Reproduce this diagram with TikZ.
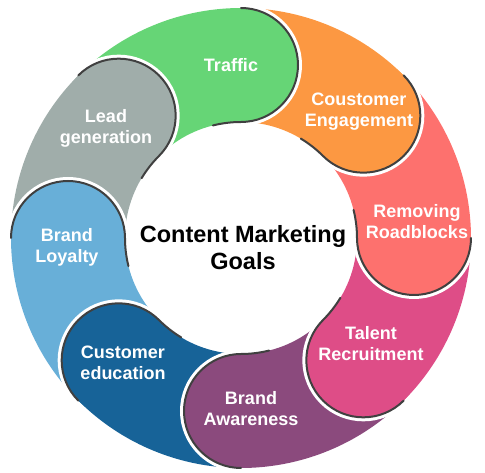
\documentclass[tikz,border=0pt]{standalone}
\usepackage{fontspec}
\setmainfont{Liberation Sans}

\definecolor{cgreen}{RGB}{102,213,118}
\definecolor{corange}{RGB}{252,152,66}
\definecolor{csalmon}{RGB}{253,113,110}
\definecolor{cpink}{RGB}{222,77,135}
\definecolor{cpurple}{RGB}{139,74,125}
\definecolor{cdarkblue}{RGB}{23,99,152}
\definecolor{clightblue}{RGB}{104,175,216}
\definecolor{cgray}{RGB}{160,173,170}

\tikzset{
  halo/.style={draw=white, line width=8},
  rim/.style={draw=black!75, line width=2, line cap=round},
  goal/.style={text=white, font=\bfseries\fontsize{18}{21}\selectfont, align=center},
  hub/.style={text=black, font=\bfseries\fontsize{23.5}{27}\selectfont, align=center}
}

\begin{document}
\begin{tikzpicture}[x=1pt, y=1pt]
\useasboundingbox (-241,-235) rectangle (244,238);

% ring of petals, clockwise from the top
\foreach \rot/\col in {4/cgreen, -41/corange, -86/csalmon, -131/cpink,
                       -176/cpurple, -221/cdarkblue, -266/clightblue, -311/cgray}{
  \fill[\col, rotate=\rot] (126.1:230) arc[start angle=126.1, end angle=86, radius=230]
    arc[start angle=86, end angle=-94, radius=57]
    arc[start angle=86, end angle=124.1, radius=116]
    arc[start angle=-35.46, end angle=111.72, radius=59.5] -- cycle;
}

% rounded heads over the next tail
\foreach \rot/\col in {4/cgreen, -41/corange, -86/csalmon, -131/cpink,
                       -176/cpurple, -221/cdarkblue, -266/clightblue, -311/cgray}{
  \begin{scope}[rotate=\rot]
    \draw[halo] (86:230) arc[start angle=86, end angle=-94, radius=57];
    \fill[\col] (86:173) circle[radius=57];
    \draw[rim] (86:230) arc[start angle=86, end angle=-94, radius=57]
      arc[start angle=86, end angle=100, radius=116];
  \end{scope}
}

\node[goal] (traffic) at (-10,173) {Traffic};
\node[goal] (engage) at (118,126) {Coustomer\\Engagement};
\node[goal] (roadblock) at (176,16) {Removing\\Roadblocks};
\node[goal] (talent) at (130,-106) {Talent\\Recruitment};
\node[goal] (awareness) at (10,-171) {Brand\\Awareness};
\node[goal] (education) at (-118,-125) {Customer\\education};
\node[goal] (loyalty) at (-174,-9) {Brand\\Loyalty};
\node[goal] (lead) at (-135,110) {Lead\\generation};

\node[hub] (goals) at (2,-10) {Content Marketing\\Goals};
\end{tikzpicture}
\end{document}
